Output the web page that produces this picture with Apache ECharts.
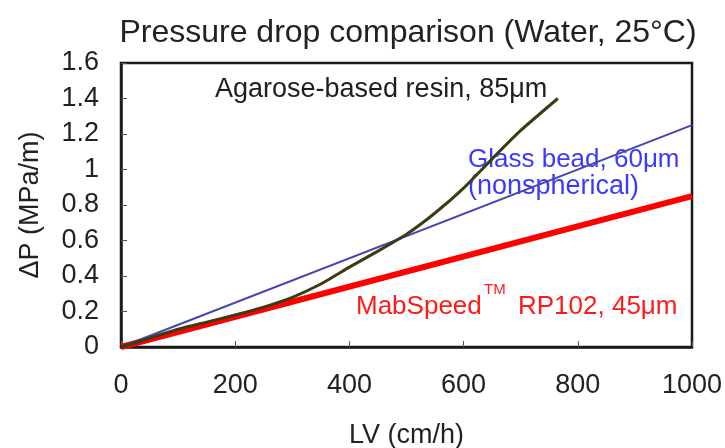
<!DOCTYPE html>
<html>
<head>
<meta charset="utf-8">
<script src="https://cdn.jsdelivr.net/npm/echarts@6/dist/echarts.min.js"></script>
<style>html,body{margin:0;padding:0;background:#fff}#c{width:725px;height:448px}</style>
</head>
<body>
<div id="c"></div>
<script>
var xTicks = [0, 200, 400, 600, 800, 1000];
var yTicks = [0, 0.2, 0.4, 0.6, 0.8, 1, 1.2, 1.4, 1.6];
var agaroseLV = [0, 50, 100, 150, 200, 250, 300, 350, 400, 450, 500, 550, 600, 650, 700, 765];
var agaroseDP = [0, 0.05, 0.1, 0.14, 0.18, 0.225, 0.28, 0.355, 0.45, 0.54, 0.635, 0.755, 0.895, 1.06, 1.22, 1.4];
var glassLV = [0, 1000];
var glassDP = [0, 1.25];
var mabLV = [0, 1000];
var mabDP = [0, 0.85];

function pairs(xs, ys) { return xs.map(function (x, i) { return [x, ys[i]]; }); }

var font = 'Liberation Sans, Arial, sans-serif';
var chart = echarts.init(document.getElementById('c'));
chart.setOption({
  animation: false,
  grid: { left: 121, top: 63, right: 33, bottom: 101, containLabel: false, outerBoundsMode: 'none', show: true, borderColor: '#1a1a1a', borderWidth: 2.5, backgroundColor: '#fff' },
  xAxis: {
    type: 'value', min: xTicks[0], max: xTicks[xTicks.length - 1], interval: 200,
    name: 'LV (cm/h)', nameLocation: 'middle', nameGap: 75,
    nameTextStyle: { fontSize: 27, color: '#222', fontFamily: font },
    axisLine: { show: true, lineStyle: { color: '#1a1a1a', width: 2.5 } },
    axisTick: { show: true, inside: true, length: 6, lineStyle: { color: '#555', width: 1 } },
    axisLabel: { fontSize: 27, color: '#222', margin: 25, fontFamily: font, formatter: function (v) { return String(v); } },
    splitLine: { show: false }
  },
  yAxis: {
    type: 'value', min: yTicks[0], max: yTicks[yTicks.length - 1], interval: 0.2,
    name: 'ΔP (MPa/m)', nameLocation: 'middle', nameGap: 77, nameRotate: 90,
    nameTextStyle: { fontSize: 27, color: '#222', fontFamily: font },
    axisLine: { show: true, lineStyle: { color: '#1a1a1a', width: 2.5 } },
    axisTick: { show: true, inside: true, length: 6, lineStyle: { color: '#555', width: 1 } },
    axisLabel: { fontSize: 27, color: '#222', margin: 22, fontFamily: font, formatter: function (v) { return String(Math.round(v * 10) / 10); } },
    splitLine: { show: false }
  },
  series: [
    { type: 'line', name: 'Glass bead', data: pairs(glassLV, glassDP), showSymbol: false, lineStyle: { color: '#4646b0', width: 2 }, z: 3 },
    { type: 'line', name: 'MabSpeed', data: pairs(mabLV, mabDP), showSymbol: false, lineStyle: { color: '#ff0000', width: 6 }, z: 2 },
    { type: 'line', name: 'Agarose', data: pairs(agaroseLV, agaroseDP), showSymbol: false, smooth: 0.15, lineStyle: { color: '#3c3c14', width: 3 }, z: 4 }
  ],
  graphic: [
    { type: 'text', x: 408, y: 33, style: { text: 'Pressure drop comparison (Water, 25°C)', font: '32px ' + font, fill: '#222', textAlign: 'center', textVerticalAlign: 'middle' } },
    { type: 'text', x: 215, y: 90, style: { text: 'Agarose-based resin, 85μm', font: '27px ' + font, fill: '#1e1e1e', textVerticalAlign: 'middle' } },
    { type: 'text', x: 468, y: 160, style: { text: 'Glass bead, 60μm', font: '26px ' + font, fill: '#3a3aff', textVerticalAlign: 'middle' } },
    { type: 'text', x: 468, y: 187, style: { text: '(nonspherical)', font: '27px ' + font, fill: '#3a3aff', textVerticalAlign: 'middle' } },
    { type: 'text', x: 356, y: 307, style: { text: 'MabSpeed', font: '26px ' + font, fill: '#ff1a1a', textVerticalAlign: 'middle' } },
    { type: 'text', x: 484, y: 290, style: { text: 'TM', font: '15px ' + font, fill: '#ff1a1a', textVerticalAlign: 'middle' } },
    { type: 'text', x: 518, y: 307, style: { text: 'RP102, 45μm', font: '26px ' + font, fill: '#ff1a1a', textVerticalAlign: 'middle' } }
  ]
});
</script>
</body>
</html>
